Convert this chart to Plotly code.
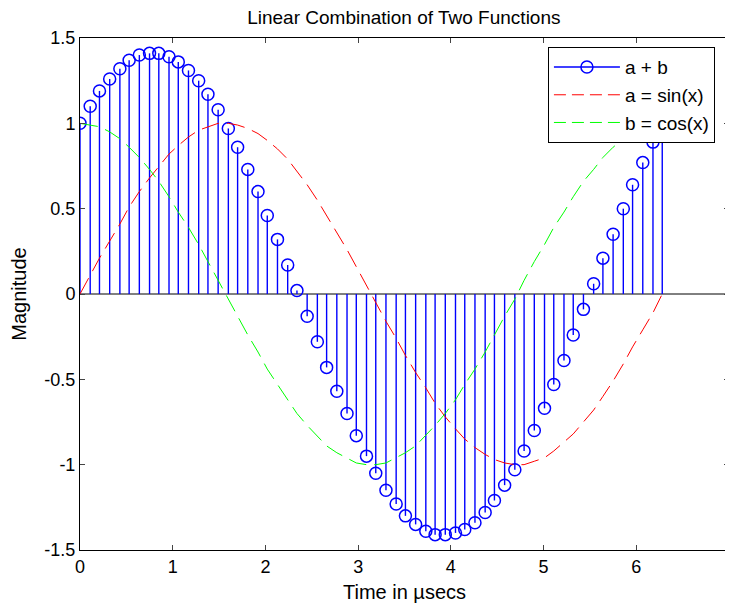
import plotly.graph_objects as go

# Sample positions (time, µsecs)
x_vals = [0.00, 0.11, 0.21, 0.32, 0.43, 0.53, 0.64, 0.75, 0.85, 0.96,
          1.06, 1.17, 1.28, 1.38, 1.49, 1.60, 1.70, 1.81, 1.92, 2.02,
          2.13, 2.24, 2.34, 2.45, 2.56, 2.66, 2.77, 2.88, 2.98, 3.09,
          3.19, 3.30, 3.41, 3.51, 3.62, 3.73, 3.83, 3.94, 4.05, 4.15,
          4.26, 4.37, 4.47, 4.58, 4.69, 4.79, 4.90, 5.01, 5.11, 5.22,
          5.32, 5.43, 5.54, 5.64, 5.75, 5.86, 5.96, 6.07, 6.18, 6.28]

# a = sin(x)
a_vals = [0.00, 0.11, 0.21, 0.31, 0.41, 0.51, 0.60, 0.68, 0.75, 0.82,
          0.87, 0.92, 0.96, 0.98, 1.00, 1.00, 0.99, 0.97, 0.94, 0.90,
          0.85, 0.79, 0.72, 0.64, 0.55, 0.46, 0.36, 0.26, 0.16, 0.05,
          -0.05, -0.16, -0.26, -0.36, -0.46, -0.55, -0.64, -0.72, -0.79, -0.85,
          -0.90, -0.94, -0.97, -0.99, -1.00, -1.00, -0.98, -0.96, -0.92, -0.87,
          -0.82, -0.75, -0.68, -0.60, -0.51, -0.41, -0.31, -0.21, -0.11, 0.00]

# b = cos(x)
b_vals = [1.00, 0.99, 0.98, 0.95, 0.91, 0.86, 0.80, 0.73, 0.66, 0.57,
          0.48, 0.39, 0.29, 0.19, 0.08, -0.03, -0.13, -0.24, -0.34, -0.44,
          -0.53, -0.62, -0.70, -0.77, -0.83, -0.89, -0.93, -0.96, -0.99, -1.00,
          -1.00, -0.99, -0.96, -0.93, -0.89, -0.83, -0.77, -0.70, -0.62, -0.53,
          -0.44, -0.34, -0.24, -0.13, -0.03, 0.08, 0.19, 0.29, 0.39, 0.48,
          0.57, 0.66, 0.73, 0.80, 0.86, 0.91, 0.95, 0.98, 0.99, 1.00]

# a + b
sum_vals = [1.00, 1.10, 1.19, 1.26, 1.32, 1.37, 1.40, 1.41, 1.41, 1.39,
            1.36, 1.31, 1.25, 1.17, 1.08, 0.97, 0.86, 0.73, 0.60, 0.46,
            0.32, 0.17, 0.02, -0.13, -0.28, -0.43, -0.57, -0.70, -0.83, -0.95,
            -1.05, -1.15, -1.23, -1.30, -1.35, -1.39, -1.41, -1.41, -1.40, -1.38,
            -1.34, -1.28, -1.21, -1.12, -1.03, -0.92, -0.80, -0.67, -0.53, -0.39,
            -0.24, -0.09, 0.06, 0.21, 0.35, 0.50, 0.64, 0.77, 0.89, 1.00]

x_ticks = [0, 1, 2, 3, 4, 5, 6, 7]
y_ticks = [-1.5, -1, -0.5, 0, 0.5, 1, 1.5]
y_tick_labels = ["-1.5", "-1", "-0.5", "0", "0.5", "1", "1.5"]

BLUE = "#0000FF"
RED = "#FF0000"
GREEN = "#00FF00"
FONT = "Liberation Sans, Arial, sans-serif"
TITLE_FS = 19
LABEL_FS = 17
TICK_FS = 18
LEGEND_FS = 19

# Build stem segments
stem_x, stem_y = [], []
for xv, yv in zip(x_vals, sum_vals):
    stem_x += [xv, xv, None]
    stem_y += [0, yv, None]

fig = go.Figure()

# baseline
fig.add_trace(go.Scatter(x=[0, 7], y=[0, 0], mode="lines",
                         line=dict(color="black", width=1),
                         showlegend=False, hoverinfo="skip"))

fig.add_trace(go.Scatter(x=stem_x, y=stem_y, mode="lines",
                         line=dict(color=BLUE, width=1.4),
                         showlegend=False, hoverinfo="skip"))

fig.add_trace(go.Scatter(x=x_vals, y=sum_vals, mode="markers",
                         marker=dict(symbol="circle-open", size=12,
                                     color=BLUE, line=dict(width=1.5, color=BLUE)),
                         showlegend=False))

fig.add_trace(go.Scatter(x=x_vals, y=a_vals, mode="lines",
                         line=dict(color=RED, width=1, dash="18px,8px"),
                         name="a = sin(x)", showlegend=False))
fig.add_trace(go.Scatter(x=x_vals, y=b_vals, mode="lines",
                         line=dict(color=GREEN, width=1, dash="18px,8px"),
                         name="b = cos(x)", showlegend=False))

# legend entries
fig.add_trace(go.Scatter(x=[None], y=[None], mode="lines+markers",
                         line=dict(color=BLUE, width=1.4),
                         marker=dict(symbol="circle-open", size=12, color=BLUE,
                                     line=dict(width=1.5, color=BLUE)),
                         name="a + b", legendgroup="g1"))
fig.add_trace(go.Scatter(x=[None], y=[None], mode="lines",
                         line=dict(color=RED, width=1, dash="12px,6px"),
                         name="a = sin(x)", legendgroup="g2"))
fig.add_trace(go.Scatter(x=[None], y=[None], mode="lines",
                         line=dict(color=GREEN, width=1, dash="12px,6px"),
                         name="b = cos(x)", legendgroup="g3"))

# The page body has an 8px margin, so the figure is sized/margined to compensate.
fig.update_layout(
    width=725, height=597,
    margin=dict(l=72, r=4, t=30, b=55),
    paper_bgcolor="white", plot_bgcolor="white",
    font=dict(family=FONT, size=LABEL_FS, color="black"),
    title=dict(text="Linear Combination of Two Functions", x=0.546, xanchor="center",
               xref="container", y=0.984, yanchor="middle", yref="container",
               font=dict(size=TITLE_FS)),
    legend=dict(x=0.721, y=0.982, xanchor="left", yanchor="top",
                bgcolor="white", bordercolor="black", borderwidth=1,
                font=dict(size=LEGEND_FS), tracegroupgap=0, itemwidth=66),
    showlegend=True,
)

fig.update_xaxes(range=[0, 7], tickvals=x_ticks, ticks="inside", ticklen=5,
                 tickfont=dict(size=TICK_FS),
                 showline=True, linecolor="black", linewidth=1, mirror="ticks",
                 showgrid=False, zeroline=False, automargin=False,
                 title=dict(text="Time in µsecs", standoff=9))
fig.update_yaxes(range=[-1.5, 1.5], tickvals=y_ticks, ticktext=y_tick_labels,
                 ticks="inside", ticklen=5, tickfont=dict(size=TICK_FS),
                 showline=True, linecolor="black", linewidth=1, mirror="ticks",
                 showgrid=False, zeroline=False, automargin=False,
                 title=dict(text="Magnitude", standoff=14))

fig.write_html("out.html")
